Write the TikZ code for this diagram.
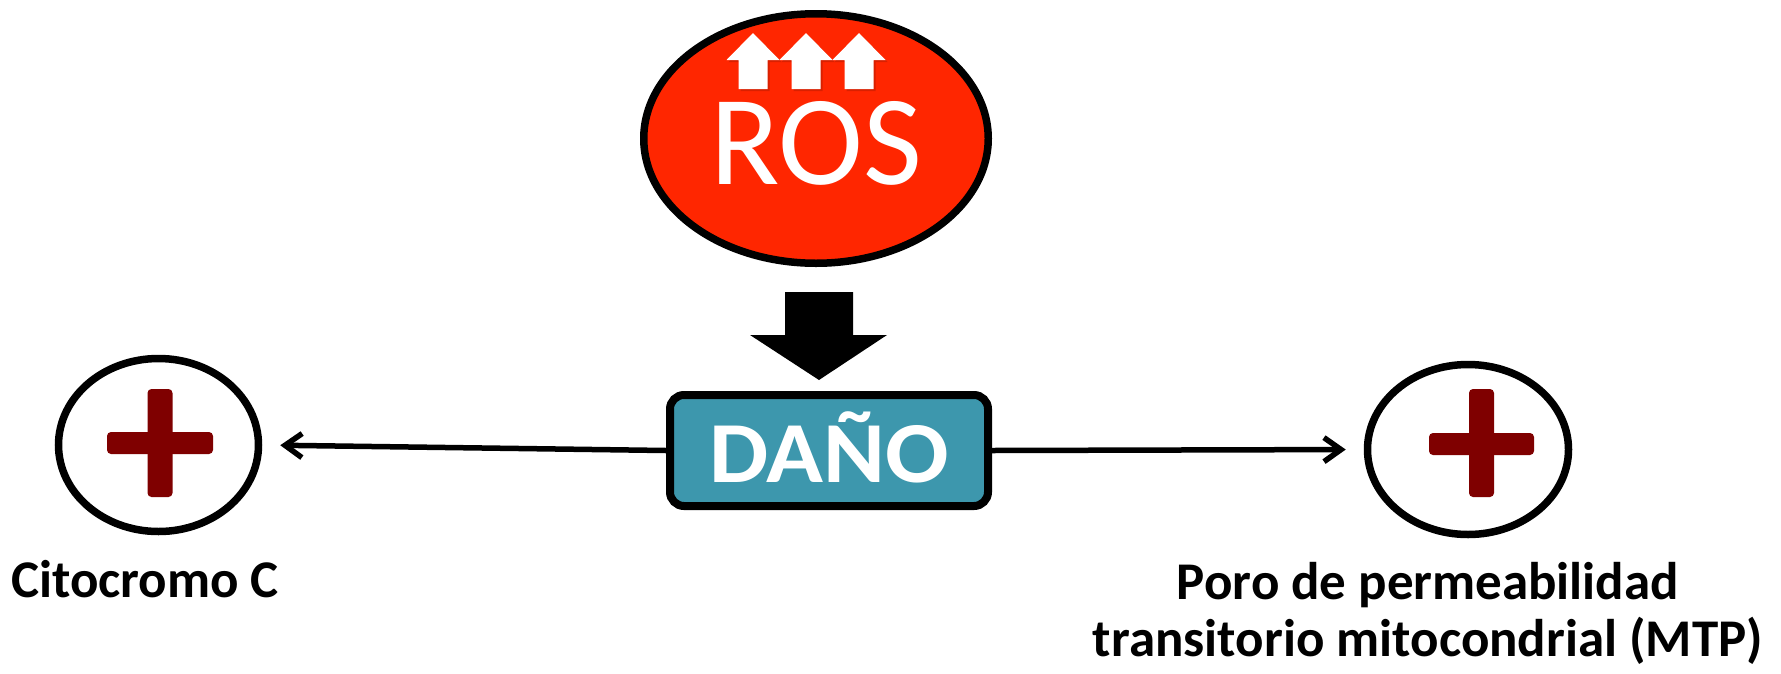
\documentclass[tikz,border=0pt]{standalone}
\usepackage{fontspec}
\setmainfont{Carlito}
\usetikzlibrary{shapes.geometric,arrows.meta,shadows}
\definecolor{rosred}{RGB}{255,38,0}
\definecolor{danoteal}{RGB}{61,151,173}
\definecolor{crossred}{RGB}{127,0,0}
\tikzset{
  softshadow/.style={drop shadow={shadow xshift=2pt,shadow yshift=-3pt,opacity=0.18}},
  circnode/.style={ellipse,draw=black,line width=7.5pt,fill=white,inner sep=0pt,minimum width=200pt,minimum height=173pt,softshadow},
  conn/.style={line width=5.5pt,-{Straight Barb[length=17pt,width=24pt,line width=5.5pt]},shorten >=18pt},
  uparrow/.style={fill=white,draw=none},
  lbl/.style={font=\fontsize{53}{57}\selectfont\bfseries,text=black,inner sep=0pt}
}
\begin{document}
\begin{tikzpicture}[x=1pt,y=-1pt]
\useasboundingbox (0,0) rectangle (1781,673);
% ROS ellipse
\node[ellipse,draw=black,line width=7.5pt,fill=rosred,inner sep=0pt,
      minimum width=344.5pt,minimum height=249.5pt,softshadow,
      text=white,font=\fontsize{128}{140}\selectfont,text height=91pt,text depth=0pt]
      (ros) at (816,138.5) {ROS};
% small up arrows
\foreach \cx in {753,806,859}{
  \fill[black,opacity=0.15] (\cx-26.5+2,62) -- (\cx+2,35) -- (\cx+26.5+2,62) -- (\cx+14.5+2,62) -- (\cx+14.5+2,91) -- (\cx-14.5+2,91) -- (\cx-14.5+2,62) -- cycle;
}
\foreach \cx in {753,806,859}{
  \path[uparrow] (\cx-26.5,60) -- (\cx,33) -- (\cx+26.5,60) -- (\cx+14.5,60) -- (\cx+14.5,89) -- (\cx-14.5,89) -- (\cx-14.5,60) -- cycle;
}
% DAÑO box
\node[draw=black,line width=8pt,fill=danoteal,rounded corners=14pt,inner sep=0pt,
      minimum width=318pt,minimum height=111pt,softshadow,
      text=white,font=\fontsize{87}{90}\selectfont\bfseries,text height=63pt,text depth=0pt]
      (dano) at (829,450.5) {\scalebox{1.08}[1]{DAÑO}};
% big black arrow
\fill[black] (785,292) -- (853,292) -- (853,335) -- (887,335) -- (819,380) -- (750,335) -- (785,335) -- cycle;
% circles
\node[circnode] (cytc) at (158.5,445) {};
\node[circnode,minimum width=201pt,minimum height=170pt] (mtp) at (1468,449.5) {};
% crosses
\fill[crossred,rounded corners=4pt] (147.5,389) rectangle (172.5,497);
\fill[crossred,rounded corners=4pt] (107,432) rectangle (213,454);
\fill[crossred,rounded corners=4pt] (1469,389) rectangle (1494,497);
\fill[crossred,rounded corners=4pt] (1429,433) rectangle (1534,455);
% connectors
\draw[conn] (dano.west) -- (cytc.east);
\draw[conn] (dano.east) -- (mtp.west);
% labels
\node[lbl,anchor=base] (lcyt) at (145,597) {Citocromo C};
\node[lbl,anchor=base,align=center] (lmtp) at (1428,656) {Poro de permeabilidad\\transitorio mitocondrial (MTP)};
\end{tikzpicture}
\end{document}
